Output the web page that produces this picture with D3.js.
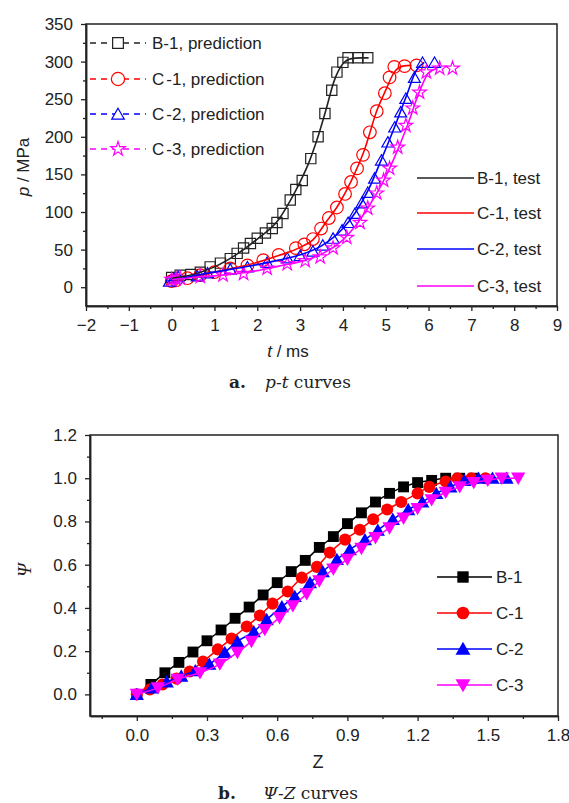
<!DOCTYPE html>
<html>
<head>
<meta charset="utf-8">
<script src="https://cdn.jsdelivr.net/npm/d3@7"></script>
<style>
  body { margin: 0; background: #fff; }
  svg text { font-family: "Liberation Sans", Arial, sans-serif; }
</style>
</head>
<body>
<div id="chart-area"></div>
<script>
// ---- panel a: p-t data ----
var ptNames = ['B-1', 'C-1', 'C-2', 'C-3'];
var ptColors = ['#222222', '#ff0000', '#0000ff', '#ff00ff'];

var b1PredT = [0, 0.2, 0.45, 0.67, 0.9, 1.14, 1.37, 1.53, 1.68, 1.84, 2.0, 2.19, 2.35, 2.46, 2.6, 2.77, 2.9, 3.05, 3.25, 3.42, 3.58, 3.74, 3.86, 4.0, 4.12, 4.35, 4.58];
var b1PredP = [13, 16, 17, 20, 27, 32, 38, 45, 52, 58, 65, 72, 78, 86, 98, 116, 130, 142, 171, 200, 231, 262, 286, 299, 305, 305, 305];
var c1PredT = [0, 0.1, 0.37, 0.67, 1.0, 1.37, 1.77, 2.14, 2.5, 2.9, 3.1, 3.3, 3.49, 3.67, 3.86, 4.05, 4.19, 4.33, 4.47, 4.63, 4.79, 4.98, 5.09, 5.2, 5.44, 5.72];
var c1PredP = [8, 9, 12, 16, 20, 25, 29, 36, 43, 52, 57, 64, 78, 92, 106, 124, 140, 158, 176, 206, 234, 258, 279, 293, 294, 295];
var c2PredT = [-0.05, 0.05, 0.15, 0.6, 0.84, 1.37, 1.77, 2.23, 2.7, 3.0, 3.3, 3.53, 3.77, 3.98, 4.12, 4.28, 4.44, 4.58, 4.74, 4.9, 5.05, 5.21, 5.35, 5.47, 5.67, 5.86, 6.14];
var c2PredP = [8, 12, 14, 15, 19, 24, 27, 33, 39, 42, 48, 56, 65, 76, 86, 98, 112, 126, 145, 169, 193, 213, 233, 251, 279, 299, 299];
var c3PredT = [0, 0.1, 0.2, 0.67, 1.2, 1.68, 2.23, 2.7, 3.12, 3.47, 3.77, 4.09, 4.4, 4.58, 4.79, 4.95, 5.09, 5.28, 5.47, 5.63, 5.79, 5.95, 6.26, 6.56];
var c3PredP = [10, 11, 12, 14, 16, 18, 25, 31, 35, 40, 52, 66, 86, 105, 125, 142, 158, 186, 215, 238, 259, 286, 291, 291];

var b1TestT = [0, 0.5, 1.0, 1.5, 2.0, 2.5, 2.8, 3.0, 3.2, 3.4, 3.6, 3.8, 4.0, 4.2, 4.4, 4.6];
var b1TestP = [12, 17, 27, 43, 64, 90, 118, 140, 165, 197, 235, 275, 297, 304, 305, 305];
var c1TestT = [0, 0.5, 1.0, 1.5, 2.0, 2.5, 3.0, 3.3, 3.6, 3.9, 4.2, 4.5, 4.8, 5.0, 5.2, 5.4, 5.6];
var c1TestP = [9, 14, 20, 26, 33, 42, 53, 63, 86, 110, 142, 182, 236, 262, 286, 294, 295];
var c2TestT = [-0.1, 0.5, 1.0, 1.5, 2.0, 2.5, 3.0, 3.5, 4.0, 4.3, 4.6, 4.9, 5.2, 5.5, 5.7, 5.9];
var c2TestP = [8, 15, 20, 25, 30, 36, 43, 55, 78, 100, 130, 170, 212, 257, 287, 299];
var c3TestT = [0, 0.5, 1.0, 1.5, 2.0, 2.5, 3.0, 3.5, 4.0, 4.3, 4.6, 4.9, 5.2, 5.5, 5.8, 6.0, 6.2];
var c3TestP = [10, 13, 15, 18, 22, 28, 34, 44, 63, 82, 107, 136, 172, 214, 262, 285, 291];

var pTicks = [0, 50, 100, 150, 200, 250, 300, 350];
var tTicks = [-2, -1, 0, 1, 2, 3, 4, 5, 6, 7, 8, 9];

// ---- panel b: Psi-Z data ----
var b1Z = [0, 0.06, 0.12, 0.18, 0.24, 0.3, 0.36, 0.42, 0.48, 0.54, 0.6, 0.66, 0.72, 0.78, 0.84, 0.9, 0.96, 1.02, 1.08, 1.14, 1.2, 1.26, 1.32, 1.38, 1.44];
var b1Psi = [0, 0.046, 0.1, 0.148, 0.196, 0.248, 0.298, 0.352, 0.404, 0.46, 0.517, 0.568, 0.62, 0.68, 0.73, 0.79, 0.84, 0.89, 0.93, 0.96, 0.98, 0.99, 1.0, 1.0, 1.0];
var c1Z = [0, 0.056, 0.11, 0.17, 0.226, 0.283, 0.346, 0.405, 0.47, 0.526, 0.58, 0.645, 0.705, 0.77, 0.825, 0.89, 0.953, 1.01, 1.07, 1.13, 1.2, 1.25, 1.32, 1.37, 1.43, 1.49];
var c1Psi = [0, 0.023, 0.046, 0.073, 0.106, 0.152, 0.208, 0.258, 0.314, 0.365, 0.42, 0.476, 0.54, 0.59, 0.656, 0.716, 0.762, 0.81, 0.855, 0.89, 0.93, 0.96, 0.985, 1.0, 1.0, 1.0];
var c2Z = [0, 0.064, 0.128, 0.19, 0.25, 0.31, 0.376, 0.43, 0.5, 0.555, 0.62, 0.675, 0.74, 0.795, 0.855, 0.91, 0.975, 1.03, 1.094, 1.16, 1.22, 1.28, 1.34, 1.4, 1.46, 1.52, 1.58];
var c2Psi = [0, 0.03, 0.058, 0.085, 0.11, 0.14, 0.194, 0.245, 0.29, 0.346, 0.406, 0.453, 0.517, 0.568, 0.624, 0.67, 0.716, 0.76, 0.81, 0.855, 0.89, 0.93, 0.96, 0.99, 1.0, 1.0, 1.0];
var c3Z = [0, 0.09, 0.175, 0.27, 0.355, 0.43, 0.49, 0.547, 0.61, 0.667, 0.726, 0.78, 0.84, 0.9, 0.96, 1.02, 1.08, 1.14, 1.2, 1.26, 1.32, 1.38, 1.44, 1.5, 1.56, 1.63];
var c3Psi = [0, 0.03, 0.07, 0.1, 0.14, 0.194, 0.245, 0.3, 0.355, 0.41, 0.465, 0.525, 0.58, 0.625, 0.675, 0.725, 0.77, 0.815, 0.86, 0.9, 0.935, 0.96, 0.98, 0.99, 1.0, 1.0];

var psiTicks = [0, 0.2, 0.4, 0.6, 0.8, 1.0, 1.2];
var zTicks = [0, 0.3, 0.6, 0.9, 1.2, 1.5, 1.8];

var svg = d3.select('#chart-area')
            .append('svg')
            .attr('width', 569)
            .attr('height', 803);

function zip(xs, ys) {
    return xs.map(function(d, i) { return [d, ys[i]]; });
}

// draws axes + frame for one panel
function frame(x, y, xMajor, xMinor, yMajor, yMinor, fmtX, fmtY) {
    var x0 = x.range()[0], x1 = x.range()[1];
    var y0 = y.range()[0], y1 = y.range()[1];

    svg.append('rect')
       .attr('x', x0).attr('y', y1)
       .attr('width', x1 - x0).attr('height', y0 - y1)
       .attr('fill', 'none').attr('stroke', '#222').attr('stroke-width', 1.5);

    var gx = svg.append('g').attr('transform', 'translate(0,' + y0 + ')')
        .call(d3.axisBottom(x).tickValues(xMajor).tickSize(5).tickSizeOuter(0).tickPadding(8).tickFormat(fmtX));
    svg.append('g').attr('transform', 'translate(0,' + y0 + ')')
        .call(d3.axisBottom(x).tickValues(xMinor).tickSize(3).tickSizeOuter(0).tickFormat(''));
    var gy = svg.append('g').attr('transform', 'translate(' + x0 + ',0)')
        .call(d3.axisLeft(y).tickValues(yMajor).tickSize(5).tickSizeOuter(0).tickPadding(8).tickFormat(fmtY));
    svg.append('g').attr('transform', 'translate(' + x0 + ',0)')
        .call(d3.axisLeft(y).tickValues(yMinor).tickSize(3).tickSizeOuter(0).tickFormat(''));

    svg.selectAll('.domain').attr('stroke', '#222').attr('stroke-width', 1.5);
    svg.selectAll('.tick line').attr('stroke', '#222').attr('stroke-width', 1.3);
    gx.selectAll('text').attr('font-size', 17).attr('fill', '#222');
    gy.selectAll('text').attr('font-size', 17).attr('fill', '#222');
}

// ================= panel a =================
var xA = d3.scaleLinear().domain([-2, 9]).range([86, 557]);
var yA = d3.scaleLinear().domain([-25, 350]).range([306, 24]);

frame(xA, yA, tTicks, d3.range(-1.5, 9, 1), pTicks, d3.range(25, 350, 50),
      d3.format('d'), d3.format('d'));

var predShapes = [d3.symbolSquare, d3.symbolCircle, d3.symbolTriangle, d3.symbolStar];
var predSizes = [105, 125, 62, 58];
var predData = [zip(b1PredT, b1PredP), zip(c1PredT, c1PredP), zip(c2PredT, c2PredP), zip(c3PredT, c3PredP)];
var testData = [zip(b1TestT, b1TestP), zip(c1TestT, c1TestP), zip(c2TestT, c2TestP), zip(c3TestT, c3TestP)];

var lineA = d3.line().x(function(d) { return xA(d[0]); }).y(function(d) { return yA(d[1]); })
              .curve(d3.curveMonotoneX);

ptNames.forEach(function(n, i) {
    var sym = d3.symbol().type(predShapes[i]).size(predSizes[i]);
    svg.append('g').selectAll('path').data(predData[i]).enter()
       .append('path')
       .attr('d', sym)
       .attr('transform', function(d) {
           var dy = i == 2 ? 1.5 : 0;
           return 'translate(' + xA(d[0]) + ',' + (yA(d[1]) + dy) + ')';
       })
       .attr('fill', 'none').attr('stroke', ptColors[i]).attr('stroke-width', 1.2);
});
ptNames.forEach(function(n, i) {
    svg.append('path').datum(testData[i])
       .attr('d', lineA)
       .attr('fill', 'none').attr('stroke', ptColors[i]).attr('stroke-width', 1.6);
});

// prediction legend
var legPredY = [43, 79, 114, 149];
ptNames.forEach(function(n, i) {
    var ly = legPredY[i];
    svg.append('line').attr('x1', 90).attr('x2', 146).attr('y1', ly).attr('y2', ly)
       .attr('stroke', ptColors[i]).attr('stroke-width', 1.3).attr('stroke-dasharray', '6,5');
    svg.append('path').attr('d', d3.symbol().type(predShapes[i]).size(predSizes[i] * 1.1))
       .attr('transform', 'translate(118,' + (ly + (i == 2 ? 1.5 : 0)) + ')')
       .attr('fill', '#fff').attr('stroke', ptColors[i]).attr('stroke-width', 1.2);
    var parts = n.split('-');
    svg.append('text').attr('x', 152).attr('y', ly + 6)
       .attr('font-size', 17).attr('fill', '#222')
       .html(parts[0] + '<tspan dx="' + (i == 0 ? 0 : 2) + '">-' + parts[1] + ', prediction</tspan>');
});

// test legend
var legTestY = [178, 213, 249, 286];
ptNames.forEach(function(n, i) {
    var ly = legTestY[i];
    svg.append('line').attr('x1', 417).attr('x2', 474).attr('y1', ly).attr('y2', ly)
       .attr('stroke', ptColors[i]).attr('stroke-width', 1.6);
    svg.append('text').attr('x', 477).attr('y', ly + 6)
       .attr('font-size', 17).attr('fill', '#222')
       .text(n + ', test');
});

// axis titles
svg.append('text')
   .attr('transform', 'translate(29,167) rotate(-90)')
   .attr('text-anchor', 'middle').attr('font-size', 17).attr('fill', '#222')
   .html('<tspan font-style="italic">p</tspan> / MPa');
svg.append('text')
   .attr('x', 288).attr('y', 357)
   .attr('text-anchor', 'middle').attr('font-size', 17).attr('fill', '#222')
   .html('<tspan font-style="italic">t</tspan> / ms');

// caption a
svg.append('text')
   .attr('y', 388).attr('font-size', 17).attr('fill', '#222')
   .style('font-family', 'DejaVu Serif, serif')
   .html('<tspan x="229" font-weight="bold">a.</tspan><tspan x="265" font-style="italic">p-t</tspan> curves');

// ================= panel b =================
var xB = d3.scaleLinear().domain([-0.2, 1.8]).range([90, 558]);
var yB = d3.scaleLinear().domain([-0.1, 1.2]).range([716, 435]);

frame(xB, yB, zTicks, d3.range(-0.15, 1.8, 0.3), psiTicks, d3.range(0.1, 1.2, 0.2),
      d3.format('.1f'), d3.format('.1f'));

var zNames = ['B-1', 'C-1', 'C-2', 'C-3'];
var zColors = ['#000000', '#ff0000', '#0000ff', '#ff00ff'];
var zShapes = [d3.symbolSquare, d3.symbolCircle, d3.symbolTriangle, d3.symbolTriangle];
var zSizes = [118, 115, 88, 88];
var zData = [zip(b1Z, b1Psi), zip(c1Z, c1Psi), zip(c2Z, c2Psi), zip(c3Z, c3Psi)];

var lineB = d3.line().x(function(d) { return xB(d[0]); }).y(function(d) { return yB(d[1]); })
              .curve(d3.curveMonotoneX);

function markerTransform(i, px, py) {
    if (i == 3) return 'translate(' + px + ',' + (py - 1.5) + ') rotate(180)';
    if (i == 2) return 'translate(' + px + ',' + (py + 1.5) + ')';
    return 'translate(' + px + ',' + py + ')';
}

zNames.forEach(function(n, i) {
    svg.append('path').datum(zData[i])
       .attr('d', lineB)
       .attr('fill', 'none').attr('stroke', zColors[i]).attr('stroke-width', 1.5);
    var sym = d3.symbol().type(zShapes[i]).size(zSizes[i]);
    svg.append('g').selectAll('path').data(zData[i]).enter()
       .append('path')
       .attr('d', sym)
       .attr('transform', function(d) { return markerTransform(i, xB(d[0]), yB(d[1])); })
       .attr('fill', zColors[i]);
});

// legend b
var legZY = [577, 613, 649, 685];
zNames.forEach(function(n, i) {
    var ly = legZY[i];
    svg.append('line').attr('x1', 437).attr('x2', 492).attr('y1', ly).attr('y2', ly)
       .attr('stroke', zColors[i]).attr('stroke-width', 1.5);
    svg.append('path').attr('d', d3.symbol().type(zShapes[i]).size(zSizes[i] * 1.1))
       .attr('transform', markerTransform(i, 463, ly))
       .attr('fill', zColors[i]);
    svg.append('text').attr('x', 496).attr('y', ly + 6)
       .attr('font-size', 17).attr('fill', '#222')
       .text(n);
});

svg.append('text')
   .attr('transform', 'translate(31,570) rotate(-90)')
   .attr('text-anchor', 'middle').attr('font-size', 19).attr('fill', '#222')
   .style('font-family', 'Liberation Serif, serif').attr('font-style', 'italic')
   .text('Ψ');
svg.append('text')
   .attr('x', 318).attr('y', 768)
   .attr('text-anchor', 'middle').attr('font-size', 18).attr('fill', '#222')
   .text('Z');

// caption b
svg.append('text')
   .attr('y', 799).attr('font-size', 17).attr('fill', '#222')
   .style('font-family', 'DejaVu Serif, serif')
   .html('<tspan x="218" font-weight="bold">b.</tspan><tspan x="263" font-style="italic">Ψ-Z</tspan> curves');
</script>
</body>
</html>
